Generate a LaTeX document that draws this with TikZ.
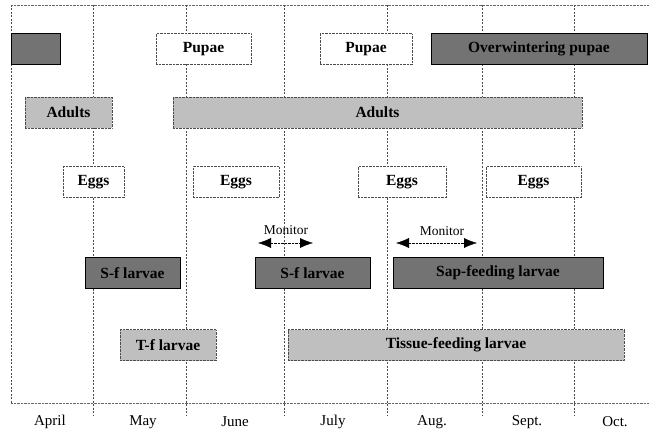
\documentclass[tikz,border=0pt]{standalone}
\usepackage{fontspec}
\setmainfont{Liberation Serif}
\usetikzlibrary{arrows.meta}
\tikzset{
  bar/.style={draw=black!70, densely dotted, minimum height=31pt, inner sep=0pt, font=\bfseries\fontsize{15.5}{17}\selectfont},
  darkbar/.style={bar, fill=black!55, draw=black, solid},
  lightbar/.style={bar, fill=black!25},
  whitebar/.style={bar, fill=white},
  grid/.style={black!70, dashed, dash pattern=on 2pt off 1.5pt},
  month/.style={font=\fontsize{15}{16}\selectfont},
  monarrow/.style={densely dotted, {Latex[length=13pt,width=10pt]}-{Latex[length=13pt,width=10pt]}}
}
\begin{document}
\begin{tikzpicture}[x=1pt,y=-1pt]
    \useasboundingbox (0,0) rectangle (649,436);
    %% frame
    \draw[grid] (11,5) -- (11,403);
    \draw[black!60, densely dotted] (11,5) -- (649,5);
    \draw[black!60, densely dotted] (11,403) -- (649,403);
    %% month lines
    \foreach \x in {93,186,284,387,482,574}
        \draw[grid] (\x,5) -- (\x,415);
    %% pupae
    \node[darkbar, minimum width=49pt] (winter1) at (35.5,49) {};
    \node[whitebar, minimum width=95pt] (pupae1) at (203.5,49) {Pupae};
    \node[whitebar, minimum width=92pt] (pupae2) at (366,49) {Pupae};
    \node[darkbar, minimum width=216pt] (winter2) at (539,49) {Overwintering pupae};
    %% adults
    \node[lightbar, minimum width=87pt] (adults1) at (68.5,112.5) {Adults};
    \node[lightbar, minimum width=409pt] (adults2) at (377.5,112.5) {Adults};
    %% eggs
    \node[whitebar, minimum width=61pt] (eggs1) at (93.5,182) {Eggs};
    \node[whitebar, minimum width=86pt] (eggs2) at (236,182) {Eggs};
    \node[whitebar, minimum width=88pt] (eggs3) at (402,182) {Eggs};
    \node[whitebar, minimum width=95pt] (eggs4) at (533.5,182) {Eggs};
    %% sap-feeding larvae
    \node[darkbar, minimum width=95pt] (sf1) at (132.5,273) {S-f larvae};
    \node[darkbar, minimum width=115pt] (sf2) at (312.5,273) {S-f larvae};
    \node[darkbar, minimum width=210pt] (sf3) at (498,273) {Sap-feeding larvae};
    %% tissue-feeding larvae
    \node[lightbar, minimum width=96pt] (tf1) at (168,345) {T-f larvae};
    \node[lightbar, minimum width=336pt] (tf2) at (456,345) {Tissue-feeding larvae};
    %% monitor
    \coordinate (mon1a) at (258,243);
    \coordinate (mon1b) at (313,243);
    \coordinate (mon2a) at (396,243);
    \coordinate (mon2b) at (477,243);
    \draw[monarrow] (mon1a) -- (mon1b);
    \draw[monarrow] (mon2a) -- (mon2b);
    \node[font=\fontsize{13.5}{14}\selectfont] (monitor1) at (286,230) {Monitor};
    \node[font=\fontsize{13.5}{14}\selectfont] (monitor2) at (442,231) {Monitor};
    %% months
    \node[month] (apr) at (50,422) {April};
    \node[month] (may) at (143,422) {May};
    \node[month] (jun) at (235,422) {June};
    \node[month] (jul) at (333,422) {July};
    \node[month] (aug) at (432,422) {Aug.};
    \node[month] (sep) at (527,422) {Sept.};
    \node[month] (oct) at (615,422) {Oct.};
\end{tikzpicture}
\end{document}
